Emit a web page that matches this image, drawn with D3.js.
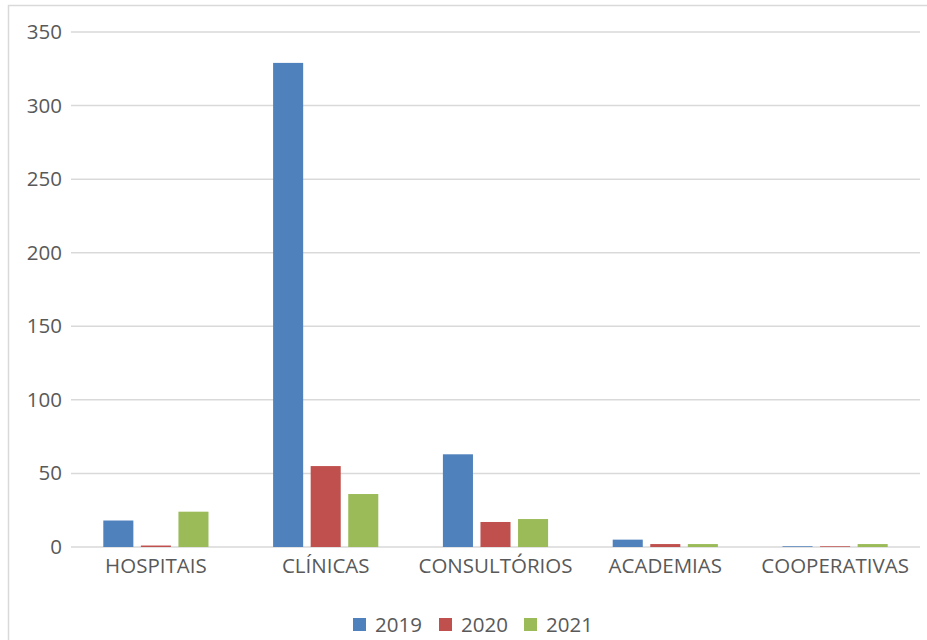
<!DOCTYPE html>
<html>
<head>
<meta charset="utf-8">
<script src="https://cdn.jsdelivr.net/npm/d3@7"></script>
<style>
  html, body { margin: 0; padding: 0; background: #fff; }
  svg { display: block; }
  text { font-family: "Open Sans", "Liberation Sans", sans-serif; fill: #595959; }
</style>
</head>
<body>
<svg id="chart" width="927" height="640"></svg>
<script>
const categories = ["HOSPITAIS", "CLÍNICAS", "CONSULTÓRIOS", "ACADEMIAS", "COOPERATIVAS"];
const seriesNames = ["2019", "2020", "2021"];
const values2019 = [18, 329, 63, 5, 0.5];
const values2020 = [1, 55, 17, 2, 0.5];
const values2021 = [24, 36, 19, 2, 2];
const colors = ["#4F81BD", "#C0504D", "#9BBB59"];
const yTicks = [0, 50, 100, 150, 200, 250, 300, 350];

const seriesValues = [values2019, values2020, values2021];
const svg = d3.select("#chart");
const FS = "20.5px";

// outer chart border
svg.append("rect")
  .attr("x", 8.5).attr("y", 5.5)
  .attr("width", 940).attr("height", 660)
  .attr("fill", "none").attr("stroke", "#d9d9d9").attr("stroke-width", 1.5);

const plotLeft = 71, plotRight = 920;
const x = d3.scaleBand().domain(categories).range([plotLeft, plotRight]).paddingInner(0).paddingOuter(0);
const xs = d3.scaleBand().domain(seriesNames).range([0, x.bandwidth()]).paddingInner(0.2).paddingOuter(0.86);
const y = d3.scaleLinear().domain([0, 350]).range([547, 32]);

// gridlines
svg.append("g").selectAll("line").data(yTicks).join("line")
  .attr("x1", plotLeft).attr("x2", plotRight)
  .attr("y1", d => y(d)).attr("y2", d => y(d))
  .attr("stroke", "#d9d9d9").attr("stroke-width", 1.5);

// y axis labels
const yAxis = d3.axisLeft(y).tickValues(yTicks).tickSize(0).tickPadding(9);
const gy = svg.append("g").attr("transform", `translate(${plotLeft},0)`).call(yAxis);
gy.select(".domain").remove();
gy.selectAll("text").style("font-size", FS).attr("fill", "#595959")
  .style("font-family", "'Open Sans', sans-serif");

// bars
const groups = svg.append("g").selectAll("g").data(categories).join("g")
  .attr("transform", d => `translate(${x(d)},0)`);
groups.selectAll("rect")
  .data((c, i) => seriesNames.map((s, j) => ({ s, j, v: seriesValues[j][i] })))
  .join("rect")
  .attr("x", d => xs(d.s))
  .attr("width", xs.bandwidth())
  .attr("y", d => y(d.v))
  .attr("height", d => y(0) - y(d.v))
  .attr("fill", d => colors[d.j]);

// x axis labels
const xAxis = d3.axisBottom(x).tickSize(0).tickPadding(0);
const gx = svg.append("g").attr("transform", `translate(0,${y(0)})`).call(xAxis);
gx.select(".domain").remove();
gx.selectAll("text").attr("dy", null).attr("y", 25.5)
  .style("font-size", FS).attr("fill", "#595959")
  .style("font-family", "'Open Sans', sans-serif");

// legend
const legendX = [353, 439, 524];
const legend = svg.append("g").selectAll("g").data(seriesNames).join("g")
  .attr("transform", (d, i) => `translate(${legendX[i]},618)`);
legend.append("rect").attr("width", 13).attr("height", 13).attr("fill", (d, i) => colors[i]);
legend.append("text").attr("x", 22).attr("y", 14).text(d => d)
  .style("font-size", FS);
</script>
</body>
</html>
